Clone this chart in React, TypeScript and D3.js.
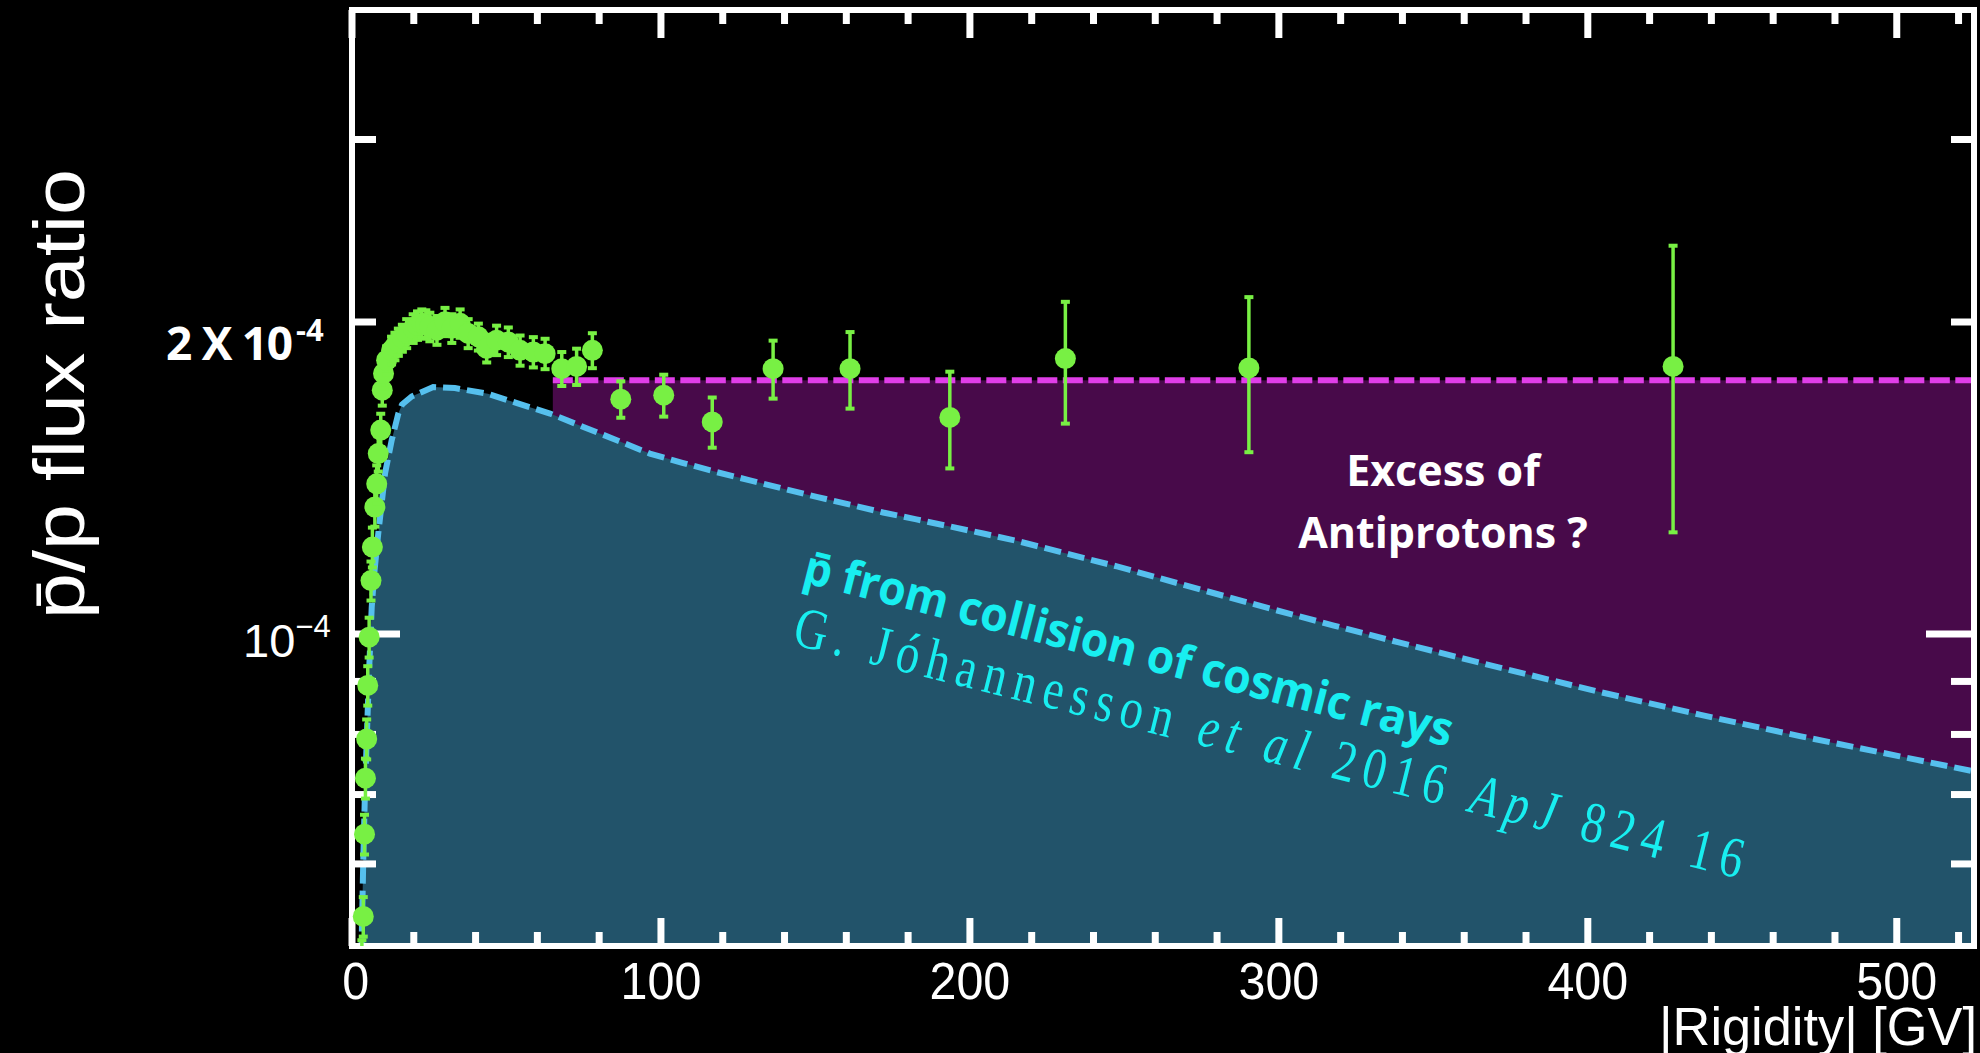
import React from "react";
import * as d3 from "d3";

const W = 1980;
const H = 1053;

// AMS-02 antiproton-to-proton flux ratio
const rigidity = [
  3.2, 3.65, 4.05, 4.35, 4.75, 5.1, 5.55, 6.15, 6.6, 7.4, 8.0, 8.5, 9.3, 9.8, 10.2,
  11.2, 12.8, 13.9, 15.0, 16.3, 17.7, 19.8, 21.2, 22.6, 23.9, 25.2, 27.5, 30.1, 32.3,
  35.0, 37.6, 40.9, 43.6, 46.8, 50.6, 54.4, 58.7, 62.5, 67.9, 72.7, 77.8,
  87.0, 100.9, 116.6, 136.3, 161.2, 193.5, 230.9, 290.3, 427.6,
];
const ratio = [
  0.485e-4, 0.534e-4, 0.641e-4, 0.726e-4, 0.792e-4, 0.892e-4, 0.993e-4, 1.126e-4, 1.213e-4,
  1.326e-4, 1.396e-4, 1.493e-4, 1.573e-4, 1.719e-4, 1.784e-4,
  1.837e-4, 1.878e-4, 1.895e-4, 1.913e-4, 1.93e-4, 1.95e-4, 1.972e-4, 1.985e-4, 1.994e-4,
  1.99e-4, 1.979e-4, 1.964e-4, 2.001e-4, 1.972e-4,
  1.994e-4, 1.95e-4, 1.935e-4, 1.886e-4, 1.921e-4, 1.913e-4, 1.878e-4, 1.871e-4, 1.864e-4,
  1.803e-4, 1.812e-4, 1.878e-4,
  1.685e-4, 1.70e-4, 1.602e-4, 1.803e-4, 1.803e-4, 1.618e-4, 1.844e-4, 1.806e-4, 1.812e-4,
];
const ratioErr = [
  0.022e-4, 0.024e-4, 0.029e-4, 0.033e-4, 0.036e-4, 0.04e-4, 0.045e-4, 0.05e-4, 0.055e-4,
  0.058e-4, 0.06e-4, 0.06e-4, 0.06e-4, 0.06e-4, 0.06e-4,
  0.06e-4, 0.06e-4, 0.06e-4, 0.06e-4, 0.06e-4, 0.065e-4, 0.065e-4, 0.065e-4, 0.065e-4,
  0.065e-4, 0.065e-4, 0.065e-4, 0.065e-4, 0.065e-4,
  0.065e-4, 0.065e-4, 0.06e-4, 0.06e-4, 0.065e-4, 0.065e-4, 0.065e-4, 0.065e-4, 0.065e-4,
  0.07e-4, 0.075e-4, 0.075e-4,
  0.07e-4, 0.081e-4, 0.091e-4, 0.118e-4, 0.155e-4, 0.175e-4, 0.25e-4, 0.31e-4, 0.56e-4,
];

// Secondary antiproton model (Jóhannesson et al 2016)
const modelRigidity = [
  2.6, 3.14, 3.66, 4.2, 4.76, 5.5, 6.38, 7.2, 8.5, 10.7, 12.85, 15.0, 16.2, 19.3, 26.3,
  33.3, 44.0, 53.4, 64.1, 74.9, 85.7, 96.4, 107.2, 118, 128.8, 139.6, 150.4, 161.2,
  171.9, 182.7, 193.5, 204.3, 215.1, 247.6, 276.5, 297.2, 317.8, 338.5, 371.5, 403.9,
  436.2, 468.6, 501, 525,
];
const modelRatio = [
  0.44e-4, 0.506e-4, 0.608e-4, 0.706e-4, 0.789e-4, 0.916e-4, 1.061e-4, 1.144e-4, 1.25e-4,
  1.429e-4, 1.538e-4, 1.632e-4, 1.665e-4, 1.695e-4, 1.731e-4,
  1.727e-4, 1.705e-4, 1.67e-4, 1.632e-4, 1.584e-4, 1.538e-4, 1.493e-4, 1.462e-4, 1.433e-4,
  1.407e-4, 1.381e-4, 1.356e-4, 1.333e-4,
  1.31e-4, 1.29e-4, 1.27e-4, 1.25e-4, 1.23e-4, 1.162e-4, 1.1e-4, 1.058e-4, 1.019e-4,
  0.982e-4, 0.928e-4, 0.879e-4,
  0.836e-4, 0.797e-4, 0.762e-4, 0.737e-4,
];

// "Excess" band
const excessStart = 65;
const excessLevel = 1.757e-4;

const xDomain = [0, 525];
const yDomain = [5e-5, 4e-4];
const xMajorTicks = [0, 100, 200, 300, 400, 500];
const yMajorTicks = [1e-4];
const yMinorTicks = [6e-5, 7e-5, 8e-5, 9e-5, 2e-4, 3e-4];

const C_TEAL = "#22536a";
const C_PURPLE = "#480a4a";
const C_BLUE = "#56c0ee";
const C_MAGENTA = "#e03ee8";
const C_GREEN = "#78f044";
const C_CYAN = "#18eef0";

export default function App() {
  const L = 352, R = 1974, T = 10, B = 946;
  const x = d3.scaleLinear().domain(xDomain).range([L, R]);
  const y = d3.scaleLog().domain(yDomain).range([B, T]);

  const modelPts: [number, number][] = modelRigidity.map((r, i) => [r, modelRatio[i]]);
  const areaPath = d3
    .area<[number, number]>()
    .x((d) => x(d[0]))
    .y0(B + 20)
    .y1((d) => y(d[1]))(modelPts) as string;
  const linePath = d3
    .line<[number, number]>()
    .x((d) => x(d[0]))
    .y((d) => y(d[1]))(modelPts) as string;

  const xMinor = d3.range(20, 525, 20).filter((v) => v % 100 !== 0);

  return (
    <div style={{ position: "fixed", left: 0, top: 0 }}>
      <svg width={W} height={H} style={{ display: "block", background: "#000" }}>
        <defs>
          <clipPath id="plot">
            <rect x={L} y={T} width={R - L} height={B - T} />
          </clipPath>
        </defs>
        <rect x={0} y={0} width={W} height={H} fill="#000" />

        <g clipPath="url(#plot)">
          <rect
            x={x(excessStart)}
            y={y(excessLevel)}
            width={x(xDomain[1]) - x(excessStart)}
            height={B - y(excessLevel)}
            fill={C_PURPLE}
          />
          <path d={areaPath} fill={C_TEAL} />
          <path d={linePath} fill="none" stroke={C_BLUE} strokeWidth={6} strokeDasharray="17 7" />
          <line
            x1={x(excessStart)}
            x2={x(xDomain[1])}
            y1={y(excessLevel)}
            y2={y(excessLevel)}
            stroke={C_MAGENTA}
            strokeWidth={6}
            strokeDasharray="20 5.5"
          />
        </g>

        {/* annotations */}
        <text
          x={1443}
          y={486}
          textAnchor="middle"
          fontFamily="'Open Sans', sans-serif"
          fontWeight={700}
          fontSize={43}
          fill="#fff"
        >
          Excess of
        </text>
        <text
          x={1443}
          y={548}
          textAnchor="middle"
          fontFamily="'Open Sans', sans-serif"
          fontWeight={700}
          fontSize={43}
          fill="#fff"
        >
          Antiprotons ?
        </text>
        <text
          transform="translate(801,582) rotate(14.3)"
          fontFamily="'Open Sans', sans-serif"
          fontWeight={700}
          fontSize={47}
          fill={C_CYAN}
          textLength={668}
          lengthAdjust="spacingAndGlyphs"
        >
          {"p\u0304 from collision of cosmic rays"}
        </text>
        <text
          transform="translate(791,644) rotate(13.9) scale(0.8,1)"
          fontFamily="'Liberation Serif', serif"
          fontSize={58}
          fill={C_CYAN}
          textLength={976 / 0.8}
          lengthAdjust="spacing"
        >
          {"G. Jóhannesson "}
          <tspan fontStyle="italic">{"et al"}</tspan>
          {" 2016 "}
          <tspan fontStyle="italic">{"ApJ"}</tspan>
          {" 824 16"}
        </text>

        {/* frame */}
        <rect x={L} y={T} width={R - L} height={B - T} fill="none" stroke="#fff" strokeWidth={6} />
        {xMajorTicks.map((v) => (
          <g key={"xM" + v}>
            <line x1={x(v)} x2={x(v)} y1={B} y2={B - 28} stroke="#fff" strokeWidth={7} />
            <line x1={x(v)} x2={x(v)} y1={T} y2={T + 28} stroke="#fff" strokeWidth={7} />
          </g>
        ))}
        {xMinor.map((v) => (
          <g key={"xm" + v}>
            <line x1={x(v)} x2={x(v)} y1={B} y2={B - 14} stroke="#fff" strokeWidth={7} />
            <line x1={x(v)} x2={x(v)} y1={T} y2={T + 14} stroke="#fff" strokeWidth={7} />
          </g>
        ))}
        {yMajorTicks.map((v) => (
          <g key={"yM" + v}>
            <line x1={L} x2={L + 48} y1={y(v)} y2={y(v)} stroke="#fff" strokeWidth={7} />
            <line x1={R} x2={R - 48} y1={y(v)} y2={y(v)} stroke="#fff" strokeWidth={7} />
          </g>
        ))}
        {yMinorTicks.map((v) => (
          <g key={"ym" + v}>
            <line x1={L} x2={L + 24} y1={y(v)} y2={y(v)} stroke="#fff" strokeWidth={7} />
            <line x1={R} x2={R - 23} y1={y(v)} y2={y(v)} stroke="#fff" strokeWidth={7} />
          </g>
        ))}

        {/* data points */}
        <g clipPath="url(#plot)">
          {rigidity.map((r, i) => {
            const cx = x(r);
            const cy = y(ratio[i]);
            const yt = y(ratio[i] + ratioErr[i]);
            const yb = y(ratio[i] - ratioErr[i]);
            return (
              <g key={"p" + i}>
                <line x1={cx} x2={cx} y1={yt} y2={yb} stroke={C_GREEN} strokeWidth={3.5} />
                <rect x={cx - 4.5} y={yt - 1.5} width={9} height={4} fill={C_GREEN} />
                <rect x={cx - 4.5} y={yb - 2.5} width={9} height={4} fill={C_GREEN} />
                <circle cx={cx} cy={cy} r={10.5} fill={C_GREEN} />
              </g>
            );
          })}
        </g>

        {/* axis labels */}
        {xMajorTicks.map((v) => (
          <text
            key={"xl" + v}
            x={x(v) + (v === 0 ? 4 : 0)}
            y={999}
            textAnchor="middle"
            fontFamily="'Liberation Sans', Arial, sans-serif"
            fontSize={51}
            fill="#fff"
            transform={`translate(${x(v)},0) scale(0.95,1) translate(${-x(v)},0)`}
          >
            {v}
          </text>
        ))}
        <text
          x={1977}
          y={1045}
          textAnchor="end"
          fontFamily="'Liberation Sans', Arial, sans-serif"
          fontSize={54}
          fill="#fff"
          textLength={318}
          lengthAdjust="spacingAndGlyphs"
        >
          |Rigidity| [GV]
        </text>

        <text x={243} y={657} fontFamily="'Liberation Sans', Arial, sans-serif" fontSize={47} fill="#fff">
          10
          <tspan fontSize={31} dy={-20}>
            {"\u22124"}
          </tspan>
        </text>
        <text
          x={166}
          y={360}
          fontFamily="'Open Sans', sans-serif"
          fontWeight={700}
          fontSize={46}
          fill="#fff"
          textLength={127}
          lengthAdjust="spacing"
        >
          2 X 10
        </text>
        <text x={296} y={341} fontFamily="'Open Sans', sans-serif" fontWeight={700} fontSize={31} fill="#fff">
          -4
        </text>

        <text
          transform="translate(84,394) rotate(-90)"
          textAnchor="middle"
          fontFamily="'Liberation Sans', Arial, sans-serif"
          fontSize={72}
          fill="#fff"
          textLength={450}
          lengthAdjust="spacingAndGlyphs"
        >
          {"p\u0304/p flux ratio"}
        </text>
      </svg>
    </div>
  );
}
